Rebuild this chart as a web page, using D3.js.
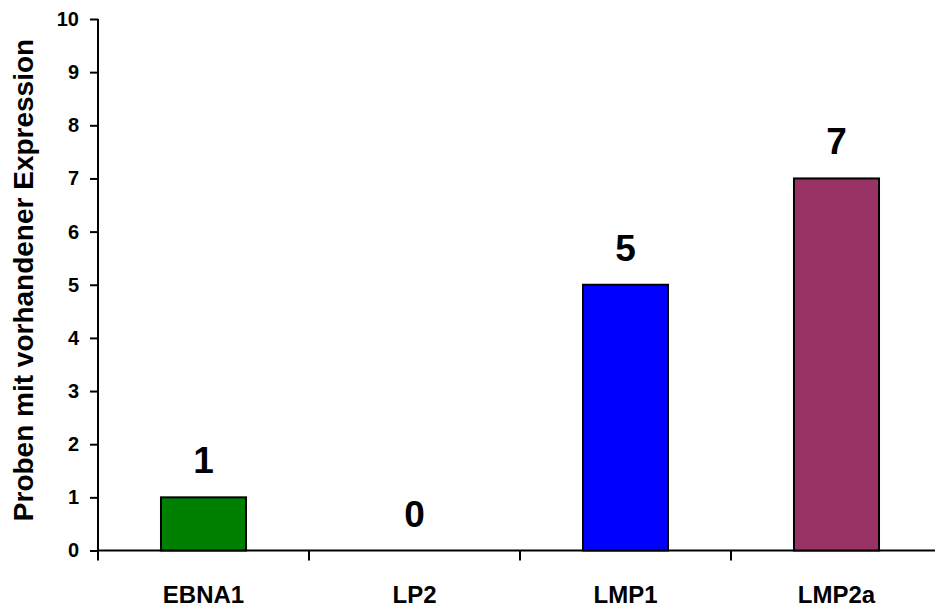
<!DOCTYPE html>
<html>
<head>
<meta charset="utf-8">
<script src="https://cdn.jsdelivr.net/npm/d3@7"></script>
<style>
  html, body { margin: 0; padding: 0; background: #fff; }
  svg { display: block; font-family: Arial, "Liberation Sans", sans-serif; }
</style>
</head>
<body>
<svg id="chart" width="935" height="608"></svg>
<script>
// Expression counts per EBV gene
const categories = ["EBNA1", "LP2", "LMP1", "LMP2a"];
const values = [1, 0, 5, 7];
const colors = ["#008000", "#0000ff", "#0000ff", "#993366"];
const yTicks = [0, 1, 2, 3, 4, 5, 6, 7, 8, 9, 10];
const yTitle = "Proben mit vorhandener Expression";

const svg = d3.select("#chart");
const plotLeft = 98, plotRight = 942, plotTop = 19, plotBottom = 550.5;

const pad = 0.597;
const x = d3.scaleBand().domain(categories).range([plotLeft, plotRight])
  .paddingInner(pad).paddingOuter(pad / 2);
const y = d3.scaleLinear().domain([0, 10]).range([plotBottom, plotTop]);

// Y axis
const yAxis = svg.append("g").attr("transform", `translate(${plotLeft},0)`)
  .call(d3.axisLeft(y).tickValues(yTicks).tickSize(8).tickPadding(11).tickFormat(d3.format("d")));
yAxis.select(".domain").attr("d", `M0,${plotBottom}V${plotTop}`).attr("stroke", "#000").attr("stroke-width", 2);
yAxis.selectAll(".tick line").attr("stroke", "#000").attr("stroke-width", 2);
yAxis.selectAll(".tick text").attr("fill", "#000").attr("font-size", 20).attr("font-weight", "bold");

// X axis: baseline with ticks at category boundaries
const gap = (x.step() - x.bandwidth()) / 2;
const bounds = categories.map(c => x(c) - gap).concat([x(categories[categories.length - 1]) + x.bandwidth() + gap]);
const xAxis = svg.append("g");
xAxis.append("line").attr("x1", plotLeft).attr("x2", plotRight).attr("y1", plotBottom).attr("y2", plotBottom)
  .attr("stroke", "#000").attr("stroke-width", 2);
xAxis.selectAll("line.tk").data(bounds).join("line").attr("class", "tk")
  .attr("x1", d => d).attr("x2", d => d).attr("y1", plotBottom).attr("y2", plotBottom + 10)
  .attr("stroke", "#000").attr("stroke-width", 2);
xAxis.selectAll("text").data(categories).join("text")
  .attr("x", d => x(d) + x.bandwidth() / 2).attr("y", 603)
  .attr("text-anchor", "middle").attr("font-size", 24).attr("font-weight", "bold").attr("fill", "#000")
  .text(d => d);

// Bars
const data = categories.map((c, i) => ({ c, v: values[i], col: colors[i] }));
svg.append("g").selectAll("rect").data(data.filter(d => d.v > 0)).join("rect")
  .attr("x", d => x(d.c)).attr("width", x.bandwidth())
  .attr("y", d => y(d.v)).attr("height", d => y(0) - y(d.v))
  .attr("fill", d => d.col).attr("stroke", "#000").attr("stroke-width", 2);

// Value labels
svg.append("g").selectAll("text").data(data).join("text")
  .attr("x", d => x(d.c) + x.bandwidth() / 2).attr("y", d => y(d.v) - 24)
  .attr("text-anchor", "middle").attr("font-size", 37).attr("font-weight", "bold").attr("fill", "#000")
  .text(d => d.v);

// Y axis title
svg.append("text").attr("transform", `translate(33,280) rotate(-90)`)
  .attr("text-anchor", "middle").attr("font-size", 28).attr("font-weight", "bold").attr("fill", "#000")
  .text(yTitle);
</script>
</body>
</html>
